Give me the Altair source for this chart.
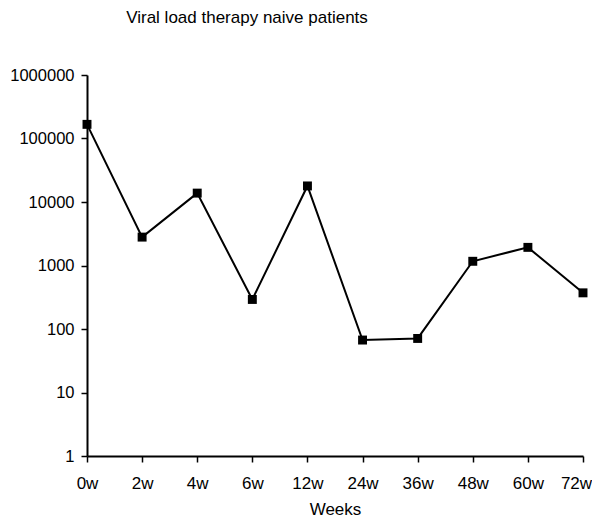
import altair as alt
import pandas as pd

weeks = ["0w", "2w", "4w", "6w", "12w", "24w", "36w", "48w", "60w", "72w"]
viral_load = [167000, 2800, 13800, 292, 17900, 67, 71, 1165, 1930, 371]
y_ticks = [1, 10, 100, 1000, 10000, 100000, 1000000]

df = pd.DataFrame({"week": weeks, "load": viral_load})

FONT = "Liberation Sans"

x = alt.X("week:O", sort=weeks, title="Weeks",
          scale=alt.Scale(type="point", padding=0),
          axis=alt.Axis(labelAngle=0, domainColor="black", domainWidth=2,
                        tickColor="black", tickWidth=1.5, tickSize=6,
                        labelFont=FONT, labelFontSize=17, labelColor="black",
                        labelPadding=13,
                        labelOffset={"condition": {"test": "datum.label == '72w'", "value": -7}, "value": 0},
                        titleFont=FONT, titleFontSize=17,
                        titleFontWeight="normal", titleColor="black",
                        titlePadding=10))
y = alt.Y("load:Q", title=None,
          scale=alt.Scale(type="log", domain=[1, 1000000], nice=False),
          axis=alt.Axis(values=y_ticks, format="d", grid=False,
                        domainColor="black", domainWidth=2,
                        tickColor="black", tickWidth=1.5, tickSize=6,
                        labelFont=FONT, labelFontSize=16.5, labelColor="black",
                        labelPadding=7))

line = alt.Chart(df).mark_line(color="black", strokeWidth=2).encode(x=x, y=y)
pts = alt.Chart(df).mark_point(shape="square", filled=True, color="black",
                               size=80, opacity=1).encode(x=x, y=y)

chart = (line + pts).properties(
    width=496, height=381,
    padding={"left": 79, "top": 67, "right": 9, "bottom": 63},
    autosize=alt.AutoSizeParams(type="none"),
    title=alt.TitleParams("Viral load therapy naive patients", font=FONT,
                          fontSize=17, fontWeight="normal", color="black",
                          anchor="middle", dx=-88, offset=40),
).configure_view(stroke=None).configure_axis(grid=False)

chart.save("out.html", embed_options={"renderer": "svg", "actions": False})
